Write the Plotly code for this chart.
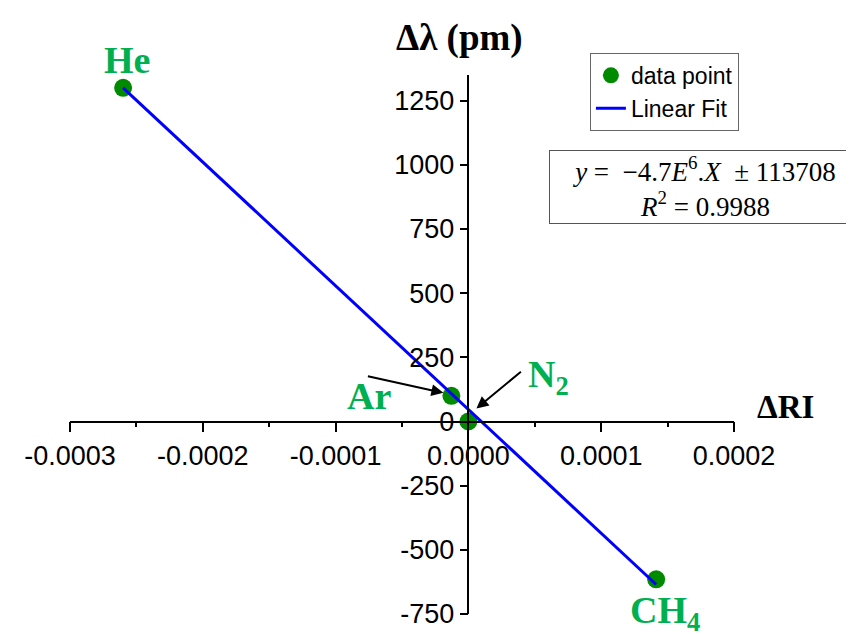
import plotly.graph_objects as go

# data
gases = ["He", "Ar", "N<sub>2</sub>", "CH<sub>4</sub>"]
delta_ri = [-0.00026, -0.0000128, 0.0, 0.0001414]
delta_lambda = [1300, 100, 0, -615]

# fitted line end points (as drawn)
fit_x = [-0.00026, 0.0001414]
fit_y = [1300, -635]

x_tickvals = [-0.0003, -0.0002, -0.0001, 0.0, 0.0001, 0.0002]
x_ticktext = ["-0.0003", "-0.0002", "-0.0001", "0.0000", "0.0001", "0.0002"]
y_tickvals = [-750, -500, -250, 0, 250, 500, 750, 1000, 1250]
y_ticktext = ["-750", "-500", "-250", "0", "250", "500", "750", "1000", "1250"]

label_green = "#00b050"
serif = "Liberation Serif, Times New Roman, serif"

fig = go.Figure()

fig.add_trace(go.Scatter(x=delta_ri, y=delta_lambda, mode="markers",
                         marker=dict(size=18, color="#008a00"),
                         name="data point"))
fig.add_trace(go.Scatter(x=fit_x, y=fit_y, mode="lines",
                         line=dict(width=3, color="#0000ff"),
                         name="Linear Fit"))

# gas labels (x shift, y shift in px from the point)
label_pos = [(4, 28), (-82, 0), (80, 45), (9, -34)]
for g, xv, yv, (dx, dy) in zip(gases, delta_ri, delta_lambda, label_pos):
    fig.add_annotation(x=xv, y=yv, text="<b>%s</b>" % g, showarrow=False,
                       xshift=dx, yshift=dy, yanchor="middle",
                       font=dict(family=serif, size=38, color=label_green))

# arrows to Ar and N2
fig.add_annotation(x=delta_ri[1], y=delta_lambda[1], ax=-77, ay=-17,
                   xshift=-8, yshift=3, text="", showarrow=True,
                   arrowhead=2, arrowsize=1.2, arrowwidth=2, arrowcolor="black")
fig.add_annotation(x=delta_ri[2], y=delta_lambda[2], ax=46, ay=-38,
                   xshift=8, yshift=13, text="", showarrow=True,
                   arrowhead=2, arrowsize=1.2, arrowwidth=2, arrowcolor="black")

# axis titles
fig.add_annotation(x=0.6, y=1.0, xref="paper", yref="paper",
                   xanchor="center", yanchor="middle", xshift=-9, yshift=37,
                   text="<b>Δλ (pm)</b>", showarrow=False,
                   font=dict(family=serif, size=37, color="black"))
fig.add_annotation(x=1.0, y=0.3571, xref="paper", yref="paper",
                   xanchor="center", yanchor="middle", xshift=51, yshift=15,
                   text="<b>ΔRI</b>", showarrow=False,
                   font=dict(family=serif, size=33, color="black"))

# equation box
fig.add_annotation(x=0.955, y=0.792, xref="paper", yref="paper",
                   xanchor="center", yanchor="middle",
                   text="<i>y</i> =  −4.7<i>E</i><sup>6</sup>.<i>X</i>  ± 113708<br><i>R</i><sup>2</sup> = 0.9988",
                   showarrow=False, width=306, height=70,
                   bordercolor="#555555", borderwidth=1, bgcolor="white",
                   font=dict(family=serif, size=27, color="black"))

# the page adds an 8px body margin, so margins are trimmed to compensate
fig.update_layout(
    width=854, height=634,
    margin=dict(l=62, r=128, t=67, b=28),
    paper_bgcolor="white", plot_bgcolor="white",
    font=dict(family="Liberation Sans, Arial, sans-serif", size=27, color="black"),
    showlegend=True,
    legend=dict(x=0.783, y=1.041, xanchor="left", yanchor="top",
                bordercolor="#666666", borderwidth=1,
                font=dict(size=23), tracegroupgap=0, itemwidth=30),
    xaxis=dict(range=[-0.0003, 0.0002], anchor="free", position=0.3571,
               automargin=False,
               showgrid=False, zeroline=False, showline=True,
               linecolor="black", linewidth=1.5,
               tickvals=x_tickvals, ticktext=x_ticktext,
               ticks="outside", ticklen=10, tickwidth=1.5, tickcolor="black",
               minor=dict(ticks="outside", ticklen=5, dtick=0.00005,
                          tickcolor="black", tickwidth=1.5)),
    yaxis=dict(range=[-750, 1350], anchor="free", position=0.6,
               automargin=False,
               showgrid=False, zeroline=False, showline=True,
               linecolor="black", linewidth=1.5,
               tickvals=y_tickvals, ticktext=y_ticktext,
               ticks="outside", ticklen=8, tickwidth=1.5, tickcolor="black"),
)

fig.write_html("out.html")
